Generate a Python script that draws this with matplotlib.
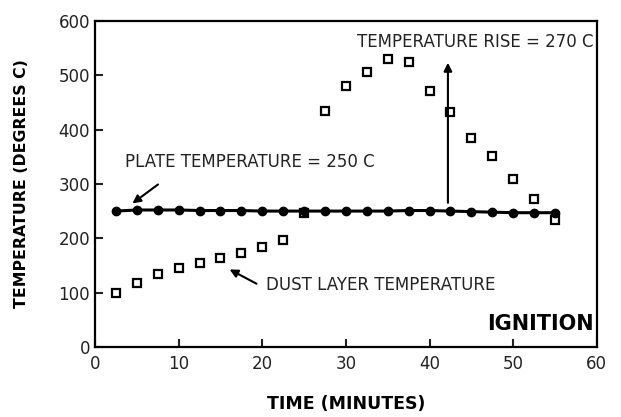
import matplotlib.pyplot as plt

# Time axis (minutes)
time_min = [2.5, 5, 7.5, 10, 12.5, 15, 17.5, 20, 22.5, 25, 27.5,
            30, 32.5, 35, 37.5, 40, 42.5, 45, 47.5, 50, 52.5, 55]

# Plate temperature (deg C)
plate_temp = [250, 252, 252, 252, 251, 251, 251, 250, 250, 250, 250,
              250, 250, 250, 251, 251, 250, 249, 248, 247, 247, 247]

# Dust layer temperature (deg C)
dust_temp = [99, 118, 134, 145, 155, 164, 173, 184, 197, 247, 434,
             480, 506, 530, 524, 471, 432, 385, 352, 309, 272, 234]

plt.rcParams['font.family'] = ['DejaVu Sans']

fig = plt.figure(figsize=(6.21, 4.17), dpi=100)
ax = fig.add_axes([0.153, 0.168, 0.808, 0.782])

ax.plot(time_min, plate_temp, color='black', lw=2.2, marker='o', ms=6, zorder=3)
ax.plot(time_min, dust_temp, ls='none', marker='s', ms=5.5, mfc='white',
        mec='black', mew=1.6, zorder=2)

ax.set_xlim(0, 60)
ax.set_ylim(0, 600)
ax.set_xticks(range(0, 61, 10))
ax.set_yticks(range(0, 601, 100))
ax.tick_params(direction='in', length=6, width=1.5, labelsize=12, colors='#222222')
ax.tick_params(axis='x', pad=6)
for s in ax.spines.values():
    s.set_linewidth(1.6)

ax.set_xlabel('TIME (MINUTES)', fontsize=12.5, fontweight='bold')
ax.set_ylabel('TEMPERATURE (DEGREES C)', fontsize=11.3, fontweight='bold')
ax.xaxis.set_label_coords(0.5, -0.148)
ax.yaxis.set_label_coords(-0.131, 0.5)

arrow = dict(arrowstyle='-|>', color='black', lw=1.5, mutation_scale=12)

ax.annotate('', xy=(4.2, 261), xytext=(7.8, 302), arrowprops=arrow)
ax.text(3.6, 340, 'PLATE TEMPERATURE = 250 C', fontsize=12, va='center', color='#222222')

ax.annotate('', xy=(42.2, 528), xytext=(42.2, 260), arrowprops=arrow)
ax.text(31.3, 561, 'TEMPERATURE RISE = 270 C', fontsize=12, va='center', color='#222222')

ax.annotate('', xy=(15.8, 145), xytext=(19.6, 114), arrowprops=arrow)
ax.text(20.5, 114, 'DUST LAYER TEMPERATURE', fontsize=12, va='center', color='#222222')

ax.text(59.6, 42, 'IGNITION', fontsize=15, fontweight='bold', ha='right', va='center')

fig.savefig('out.png', dpi=100)
